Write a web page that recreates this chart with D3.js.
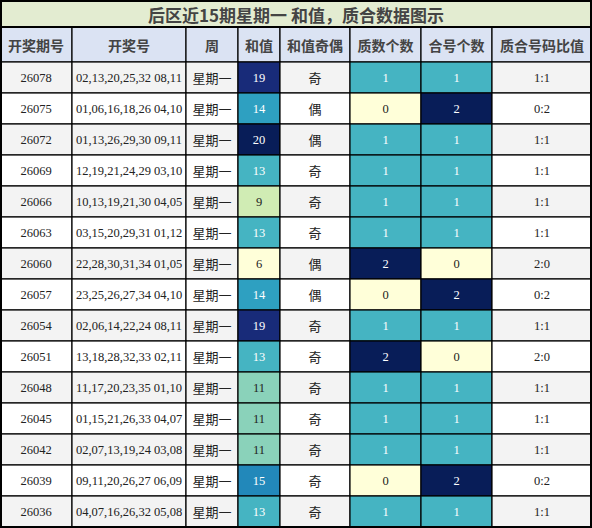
<!DOCTYPE html>
<html><head><meta charset="utf-8">
<script src="https://cdn.jsdelivr.net/npm/d3@7"></script>
<style>body{margin:0;background:#fff}</style>
</head><body><svg id="chart"></svg>
<script>
const headers = ["开奖期号","开奖号","周","和值","和值奇偶","质数个数","合号个数","质合号码比值"];
const issues = ["26078","26075","26072","26069","26066","26063","26060","26057","26054","26051","26048","26045","26042","26039","26036"];
const draws = ["02,13,20,25,32 08,11","01,06,16,18,26 04,10","01,13,26,29,30 09,11","12,19,21,24,29 03,10","10,13,19,21,30 04,05","03,15,20,29,31 01,12","22,28,30,31,34 01,05","23,25,26,27,34 04,10","02,06,14,22,24 08,11","13,18,28,32,33 02,11","11,17,20,23,35 01,10","01,15,21,26,33 04,07","02,07,13,19,24 03,08","09,11,20,26,27 06,09","04,07,16,26,32 05,08"];
const sums = [19,14,20,13,9,13,6,14,19,13,11,11,11,15,13];
const parity = ["奇","偶","偶","奇","奇","奇","偶","偶","奇","奇","奇","奇","奇","奇","奇"];
const primes = [1,0,1,1,1,1,2,0,1,2,1,1,1,0,1];
const composites = [1,2,1,1,1,1,0,2,1,0,1,1,1,2,1];
const ratios = primes.map((p,i)=>p+":"+composites[i]);

const W=592,H=528, titleH=27, headH=35;
const colEdges=[0,72,186,238,280,350,421,492,592];
const svg=d3.select("#chart").attr("width",W).attr("height",H);
const y=d3.scaleBand().domain(issues).range([titleH+headH,H-1]);
const sumColor=d3.scaleSequential(d3.interpolateYlGnBu).domain([6,20]);
const cntColor=d3.scaleSequential(d3.interpolateYlGnBu).domain([0,2]);
const serif="'Liberation Serif','DejaVu Serif',serif", cjk="'Noto Sans CJK SC',sans-serif";

svg.append("rect").attr("x",1).attr("y",1).attr("width",W-2).attr("height",titleH-1).attr("fill","#e3ecd1").attr("stroke","#000").attr("stroke-width",2);
svg.append("text").attr("x",W/2).attr("y",titleH/2+1).attr("text-anchor","middle").attr("dominant-baseline","central")
  .attr("font-family",cjk).attr("font-weight","bold").attr("font-size",17).attr("fill","#444")
  .text("后区近15期星期一 和值，质合数据图示");

headers.forEach((h,c)=>{
  svg.append("rect").attr("x",colEdges[c]).attr("y",titleH).attr("width",colEdges[c+1]-colEdges[c]).attr("height",headH)
    .attr("fill","#dbe3f3").attr("stroke","#000").attr("stroke-width",1.2);
  svg.append("text").attr("x",(colEdges[c]+colEdges[c+1])/2).attr("y",titleH+headH/2).attr("text-anchor","middle").attr("dominant-baseline","central")
    .attr("font-family",cjk).attr("font-weight","bold").attr("font-size",14).attr("fill","#444").text(h);
});

const txtCol=col=>d3.hsl(col).l<0.6?"#fff":"#222";
issues.forEach((iss,i)=>{
  const bg=i%2===0?"#f3f3f3":"#fff";
  const cells=[
    {t:iss,f:bg,font:serif},
    {t:draws[i],f:bg,font:serif},
    {t:"星期一",f:bg,font:cjk},
    {t:sums[i],f:sumColor(sums[i]),font:serif},
    {t:parity[i],f:bg,font:cjk},
    {t:primes[i],f:cntColor(primes[i]),font:serif},
    {t:composites[i],f:cntColor(composites[i]),font:serif},
    {t:ratios[i],f:bg,font:serif}
  ];
  cells.forEach((c,k)=>{
    const x0=colEdges[k],w=colEdges[k+1]-x0;
    svg.append("rect").attr("x",x0).attr("y",y(iss)).attr("width",w).attr("height",y.bandwidth())
      .attr("fill",c.f).attr("stroke","#000").attr("stroke-width",1.2);
    const coloured=[3,5,6].includes(k);
    svg.append("text").attr("x",x0+w/2).attr("y",y(iss)+y.bandwidth()/2).attr("text-anchor","middle").attr("dominant-baseline","central")
      .attr("font-family",c.font).attr("font-size",c.font===cjk?13:12.5)
      .attr("fill",coloured?txtCol(c.f):"#222").text(c.t);
  });
});
svg.append("rect").attr("x",1).attr("y",titleH).attr("width",W-2).attr("height",H-titleH-1).attr("fill","none").attr("stroke","#000").attr("stroke-width",2);
</script></body></html>
